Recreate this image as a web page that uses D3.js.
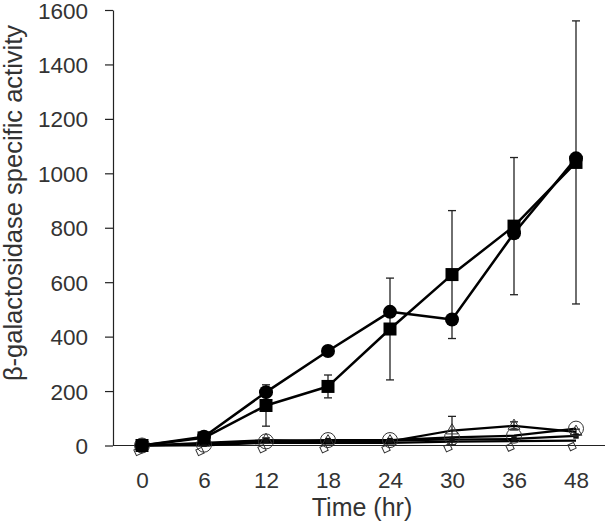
<!DOCTYPE html>
<html>
<head>
<meta charset="utf-8">
<script src="https://cdn.jsdelivr.net/npm/d3@7"></script>
<style>
  html, body { margin: 0; padding: 0; background: #fff; }
  svg { display: block; }
  text { font-family: "Liberation Sans", Arial, sans-serif; fill: #333; }
</style>
</head>
<body>
<svg id="chart" width="605" height="524"></svg>
<script>
// ---- data ----
const categories = ["0", "6", "12", "18", "24", "30", "36", "48"];
const yTicks = [0, 200, 400, 600, 800, 1000, 1200, 1400, 1600];

const filledCircle = [0, 32, 196, 347, 491, 463, 780, 1055];
const filledSquare = [0, 28, 147, 217, 428, 628, 806, 1040];
const filledSquareErr = [0, 5, 76, 42, 187, 235, 252, 520];

const openCircle = [0, 3, 15, 20, 20, 30, 36, 62];
const openTriangle = [0, 10, 20, 15, 15, 55, 72, 50];
const openTriangleErr = [0, 5, 8, 5, 5, 52, 15, 10];
const crossSeries = [0, 0, 10, 10, 10, 14, 16, 18];
const dashSeries = [0, 5, 18, 18, 18, 22, 24, 35];

// ---- layout ----
const svg = d3.select("#chart");
const x = d3.scalePoint().domain(categories).range([142, 576]);
const y = d3.scaleLinear().domain([0, 1600]).range([445.5, 10]);

// y axis
const yAxis = svg.append("g")
  .attr("transform", "translate(113,0)")
  .call(d3.axisLeft(y).tickValues(yTicks).tickFormat(d3.format("d"))
    .tickSize(8).tickSizeOuter(0).tickPadding(17));
yAxis.selectAll("text").style("font-size", "22.5px").attr("fill", "#333").attr("dy", "0.36em");
yAxis.selectAll("line, path").attr("stroke", "#222").attr("stroke-width", 1.2);

// x axis
const xAxis = svg.append("g")
  .attr("transform", `translate(0,${y(0)})`)
  .call(d3.axisBottom(x).tickSize(0).tickPadding(27));
xAxis.select(".domain").remove();
xAxis.selectAll("text").style("font-size", "22.5px").attr("fill", "#333");
svg.append("line")
  .attr("x1", 113).attr("x2", 605)
  .attr("y1", y(0)).attr("y2", y(0))
  .attr("stroke", "#222").attr("stroke-width", 1.2);

// titles
svg.append("text")
  .attr("x", 362).attr("y", 516)
  .attr("text-anchor", "middle")
  .style("font-size", "25px")
  .text("Time (hr)");
svg.append("text")
  .attr("transform", "translate(22,203) rotate(-90)")
  .attr("text-anchor", "middle")
  .style("font-size", "25.5px")
  .text("β-galactosidase specific activity");

const line = d3.line().x((d, i) => x(categories[i])).y(d => y(d));

function errorBars(vals, errs, sw) {
  const g = svg.append("g").attr("stroke", "#222").attr("stroke-width", sw);
  vals.forEach((v, i) => {
    const e = errs[i];
    if (!e) return;
    const cx = x(categories[i]);
    g.append("line").attr("x1", cx).attr("x2", cx).attr("y1", y(v - e)).attr("y2", y(v + e));
    g.append("line").attr("x1", cx - 4).attr("x2", cx + 4).attr("y1", y(v + e)).attr("y2", y(v + e));
    g.append("line").attr("x1", cx - 4).attr("x2", cx + 4).attr("y1", y(v - e)).attr("y2", y(v - e));
  });
}

function drawLine(vals, sw) {
  svg.append("path").datum(vals)
    .attr("d", line)
    .attr("fill", "none").attr("stroke", "#000").attr("stroke-width", sw)
    .attr("stroke-linejoin", "round");
}

// low series
errorBars(openTriangle, openTriangleErr, 1.3);
drawLine(crossSeries, 2.2);
drawLine(dashSeries, 2.2);
drawLine(openCircle, 2.2);
drawLine(openTriangle, 2.2);

const sym = (type, size) => d3.symbol().type(type).size(size);

svg.append("g").selectAll("path").data(openTriangle).join("path")
  .attr("transform", (d, i) => `translate(${x(categories[i])},${y(d)})`)
  .attr("d", sym(d3.symbolTriangle, 60)())
  .attr("fill", "none").attr("stroke", "#333").attr("stroke-width", 1);

svg.append("g").selectAll("path").data(crossSeries).join("path")
  .attr("transform", (d, i) => `translate(${x(categories[i]) - 4},${y(d) + 6}) rotate(20)`)
  .attr("d", sym(d3.symbolDiamond2, 50)())
  .attr("fill", "none").attr("stroke", "#333").attr("stroke-width", 1);

svg.append("g").selectAll("path").data(dashSeries).join("path")
  .attr("transform", (d, i) => `translate(${x(categories[i])},${y(d)})`)
  .attr("d", sym(d3.symbolSquare, 30)())
  .attr("fill", "#111");

svg.append("g").selectAll("circle").data(openCircle).join("circle")
  .attr("cx", (d, i) => x(categories[i]))
  .attr("cy", d => y(d))
  .attr("r", 7.5)
  .attr("fill", "none").attr("stroke", "#333").attr("stroke-width", 1);

// main series
errorBars(filledSquare, filledSquareErr, 1.3);
drawLine(filledCircle, 2.5);
drawLine(filledSquare, 2.5);

svg.append("g").selectAll("circle").data(filledCircle).join("circle")
  .attr("cx", (d, i) => x(categories[i]))
  .attr("cy", d => y(d))
  .attr("r", 7)
  .attr("fill", "#000");

svg.append("g").selectAll("rect").data(filledSquare).join("rect")
  .attr("x", (d, i) => x(categories[i]) - 6.5)
  .attr("y", d => y(d) - 6.5)
  .attr("width", 13).attr("height", 13)
  .attr("fill", "#000");
</script>
</body>
</html>
